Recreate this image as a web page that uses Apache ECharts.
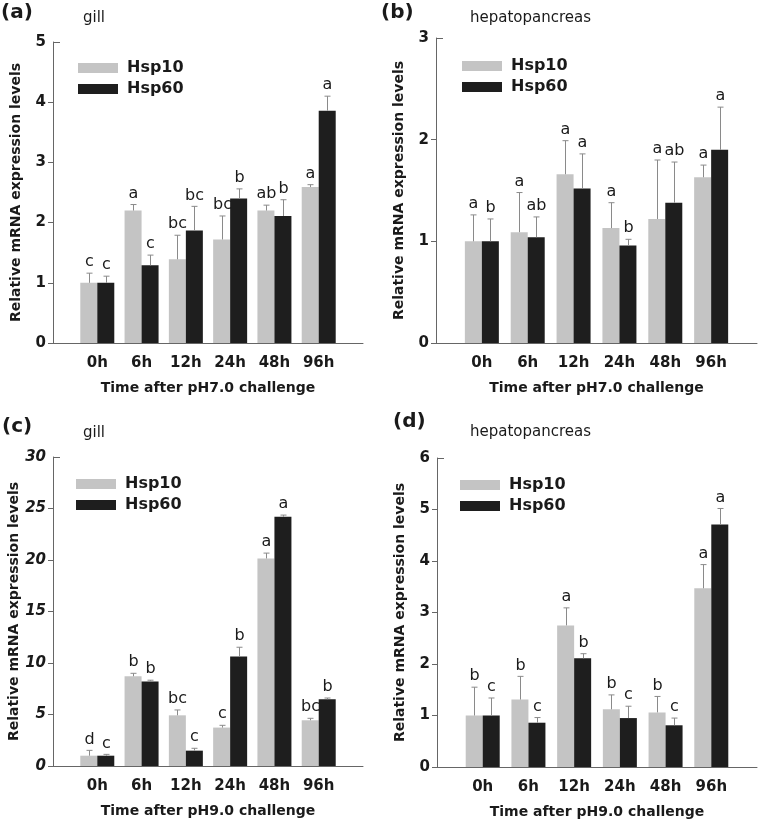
<!DOCTYPE html>
<html><head><meta charset="utf-8">
<script src="https://cdn.jsdelivr.net/npm/echarts@6/dist/echarts.min.js"></script>
<style>html,body{margin:0;padding:0;background:#fff}#c{width:761px;height:823px}</style>
</head><body><div id="c"></div><script>
const categories = ['0h', '6h', '12h', '24h', '48h', '96h'];
const seriesNames = ['Hsp10', 'Hsp60'];
const yAxisTitle = 'Relative mRNA expression levels';

// (a) gill, pH7.0
const aHsp10 = [1.0, 2.2, 1.39, 1.72, 2.2, 2.59];
const aHsp10Sd = [0.16, 0.10, 0.40, 0.39, 0.09, 0.04];
const aHsp60 = [1.0, 1.29, 1.87, 2.4, 2.11, 3.86];
const aHsp60Sd = [0.11, 0.17, 0.40, 0.16, 0.27, 0.24];
const aHsp10Letters = ['c', 'a', 'bc', 'bc', 'ab', 'a'];
const aHsp60Letters = ['c', 'c', 'bc', 'b', 'b', 'a'];
const aYTicks = [0, 1, 2, 3, 4, 5];

// (b) hepatopancreas, pH7.0
const bHsp10 = [1.0, 1.09, 1.66, 1.13, 1.22, 1.63];
const bHsp10Sd = [0.26, 0.39, 0.33, 0.25, 0.58, 0.12];
const bHsp60 = [1.0, 1.04, 1.52, 0.96, 1.38, 1.90];
const bHsp60Sd = [0.22, 0.20, 0.34, 0.06, 0.40, 0.42];
const bHsp10Letters = ['a', 'a', 'a', 'a', 'a', 'a'];
const bHsp60Letters = ['b', 'ab', 'a', 'b', 'ab', 'a'];
const bYTicks = [0, 1, 2, 3];

// (c) gill, pH9.0
const cHsp10 = [1.0, 8.71, 4.92, 3.73, 20.15, 4.44];
const cHsp10Sd = [0.52, 0.29, 0.52, 0.22, 0.52, 0.19];
const cHsp60 = [1.0, 8.2, 1.49, 10.63, 24.2, 6.48];
const cHsp60Sd = [0.13, 0.13, 0.23, 0.9, 0.16, 0.12];
const cHsp10Letters = ['d', 'b', 'bc', 'c', 'a', 'bc'];
const cHsp60Letters = ['c', 'b', 'c', 'b', 'a', 'b'];
const cYTicks = [0, 5, 10, 15, 20, 25, 30];

// (d) hepatopancreas, pH9.0
const dHsp10 = [1.0, 1.31, 2.75, 1.12, 1.06, 3.47];
const dHsp10Sd = [0.55, 0.45, 0.34, 0.28, 0.31, 0.46];
const dHsp60 = [1.0, 0.86, 2.11, 0.95, 0.81, 4.71];
const dHsp60Sd = [0.34, 0.10, 0.09, 0.23, 0.14, 0.31];
const dHsp10Letters = ['b', 'b', 'a', 'b', 'b', 'a'];
const dHsp60Letters = ['c', 'c', 'b', 'c', 'c', 'a'];
const dYTicks = [0, 1, 2, 3, 4, 5, 6];

const FONT = '"DejaVu Sans", sans-serif';
const TXT = '#1a1a1a';
const AX = '#666';
const GRAY = '#c4c4c4';
const BLACK = '#1e1e1e';
const ERR = '#8a8a8a';

const panels = [
  {tag: '(a)', tagPos: [1, 3], tissue: 'gill', tissuePos: [83, 11],
   grid: {left: 53, top: 42, width: 310, height: 301}, ticks: aYTicks, italic: false,
   xName: 'Time after pH7.0 challenge', legendPos: [73, 54],
   h10: aHsp10, h10sd: aHsp10Sd, h60: aHsp60, h60sd: aHsp60Sd, l10: aHsp10Letters, l60: aHsp60Letters},
  {tag: '(b)', tagPos: [381, 3], tissue: 'hepatopancreas', tissuePos: [470, 11],
   grid: {left: 436, top: 38, width: 321, height: 305}, ticks: bYTicks, italic: false,
   xName: 'Time after pH7.0 challenge', legendPos: [457, 52],
   h10: bHsp10, h10sd: bHsp10Sd, h60: bHsp60, h60sd: bHsp60Sd, l10: bHsp10Letters, l60: bHsp60Letters},
  {tag: '(c)', tagPos: [2, 417], tissue: 'gill', tissuePos: [83, 426],
   grid: {left: 53, top: 457, width: 310, height: 309}, ticks: cYTicks, italic: true,
   xName: 'Time after pH9.0 challenge', legendPos: [71, 470],
   h10: cHsp10, h10sd: cHsp10Sd, h60: cHsp60, h60sd: cHsp60Sd, l10: cHsp10Letters, l60: cHsp60Letters},
  {tag: '(d)', tagPos: [393, 412], tissue: 'hepatopancreas', tissuePos: [470, 425],
   grid: {left: 437, top: 458, width: 320, height: 309}, ticks: dYTicks, italic: false,
   xName: 'Time after pH9.0 challenge', legendPos: [455, 471],
   h10: dHsp10, h10sd: dHsp10Sd, h60: dHsp60, h60sd: dHsp60Sd, l10: dHsp10Letters, l60: dHsp60Letters}
];

function errSeries(i, means, sds, letters, offset) {
  return {
    type: 'custom', xAxisIndex: i, yAxisIndex: i, z: 5, clip: false,
    encode: {x: 0, y: 1},
    data: means.map((m, k) => [k + 1, m, sds[k]]),
    renderItem: function (params, api) {
      const idx = api.value(0), mean = api.value(1), sd = api.value(2);
      const p0 = api.coord([idx, mean]);
      const p1 = api.coord([idx, mean + sd]);
      const x = Math.round(p0[0] + offset) + 0.5;
      const children = [
        {type: 'line', shape: {x1: x, y1: p0[1], x2: x, y2: p1[1]}, style: {stroke: ERR, lineWidth: 1}},
        {type: 'line', shape: {x1: x - 3, y1: p1[1], x2: x + 3, y2: p1[1]}, style: {stroke: ERR, lineWidth: 1}},
        {type: 'text', x: x, y: p1[1] - 3,
         style: {text: letters[params.dataIndex], fontSize: 16, fontFamily: FONT, fill: TXT,
                 align: 'center', verticalAlign: 'bottom'}}
      ];
      return {type: 'group', children: children};
    }
  };
}

const option = {
  animation: false, backgroundColor: '#fff',
  grid: [], xAxis: [], yAxis: [], series: [], legend: [], graphic: []
};

panels.forEach((p, i) => {
  const yMax = p.ticks[p.ticks.length - 1];
  const yInt = p.ticks[1] - p.ticks[0];
  option.grid.push(Object.assign({}, p.grid));
  option.xAxis.push({
    type: 'category', gridIndex: i, data: [''].concat(categories, ['']), boundaryGap: false,
    axisLine: {lineStyle: {color: AX, width: 1}}, axisTick: {show: false},
    axisLabel: {interval: 0, margin: 13, fontSize: 15, fontWeight: 'bold', fontFamily: FONT, color: TXT},
    name: p.xName, nameLocation: 'middle', nameGap: 38,
    nameTextStyle: {fontSize: 14, fontWeight: 'bold', fontFamily: FONT, color: TXT}
  });
  option.yAxis.push({
    type: 'value', gridIndex: i, min: 0, max: yMax, interval: yInt,
    splitLine: {show: false},
    axisLine: {show: true, lineStyle: {color: AX, width: 1}},
    axisTick: {show: true, length: 5, lineStyle: {color: AX}, customValues: p.ticks.slice(0, -1)},
    axisLabel: {margin: 7, fontSize: 15, fontWeight: 'bold', fontStyle: p.italic ? 'italic' : 'normal',
                fontFamily: FONT, color: TXT},
    name: yAxisTitle, nameLocation: 'middle', nameGap: 30,
    nameTextStyle: {fontSize: 14, fontWeight: 'bold', fontFamily: FONT, color: TXT}
  });
  // overlay axis only for the inward cap tick at the top of the y axis
  option.yAxis.push({
    type: 'value', gridIndex: i, min: 0, max: yMax, interval: yMax, position: 'left',
    splitLine: {show: false}, axisLine: {show: false}, axisLabel: {show: false},
    axisTick: {show: true, inside: true, length: 7, lineStyle: {color: AX}, customValues: [yMax]}
  });
  const yIdx = i * 2;
  option.series.push({
    type: 'bar', name: seriesNames[0], xAxisIndex: i, yAxisIndex: yIdx,
    data: [null].concat(p.h10, [null]), barWidth: 17, barGap: '0%', itemStyle: {color: GRAY}
  });
  option.series.push({
    type: 'bar', name: seriesNames[1], xAxisIndex: i, yAxisIndex: yIdx,
    data: [null].concat(p.h60, [null]), barWidth: 17, barGap: '0%', itemStyle: {color: BLACK}
  });
  const e1 = errSeries(i, p.h10, p.h10sd, p.l10, -8.5); e1.yAxisIndex = yIdx;
  const e2 = errSeries(i, p.h60, p.h60sd, p.l60, 8.5); e2.yAxisIndex = yIdx;
  option.series.push(e1, e2);
  option.legend.push({
    left: p.legendPos[0], top: p.legendPos[1], orient: 'vertical', icon: 'rect',
    itemWidth: 40, itemHeight: 10, itemGap: 3, data: seriesNames, selectedMode: false,
    textStyle: {fontSize: 16, lineHeight: 18, fontWeight: 'bold', fontFamily: FONT, color: TXT,
                padding: [0, 0, 0, 4]}
  });
  option.graphic.push({type: 'text', left: p.tagPos[0], top: p.tagPos[1],
    style: {text: p.tag, fontSize: 20, fontWeight: 'bold', fontFamily: FONT, fill: TXT}});
  option.graphic.push({type: 'text', left: p.tissuePos[0], top: p.tissuePos[1],
    style: {text: p.tissue, fontSize: 15, fontFamily: FONT, fill: TXT}});
});

const chart = echarts.init(document.getElementById('c'));
chart.setOption(option);
</script></body></html>
